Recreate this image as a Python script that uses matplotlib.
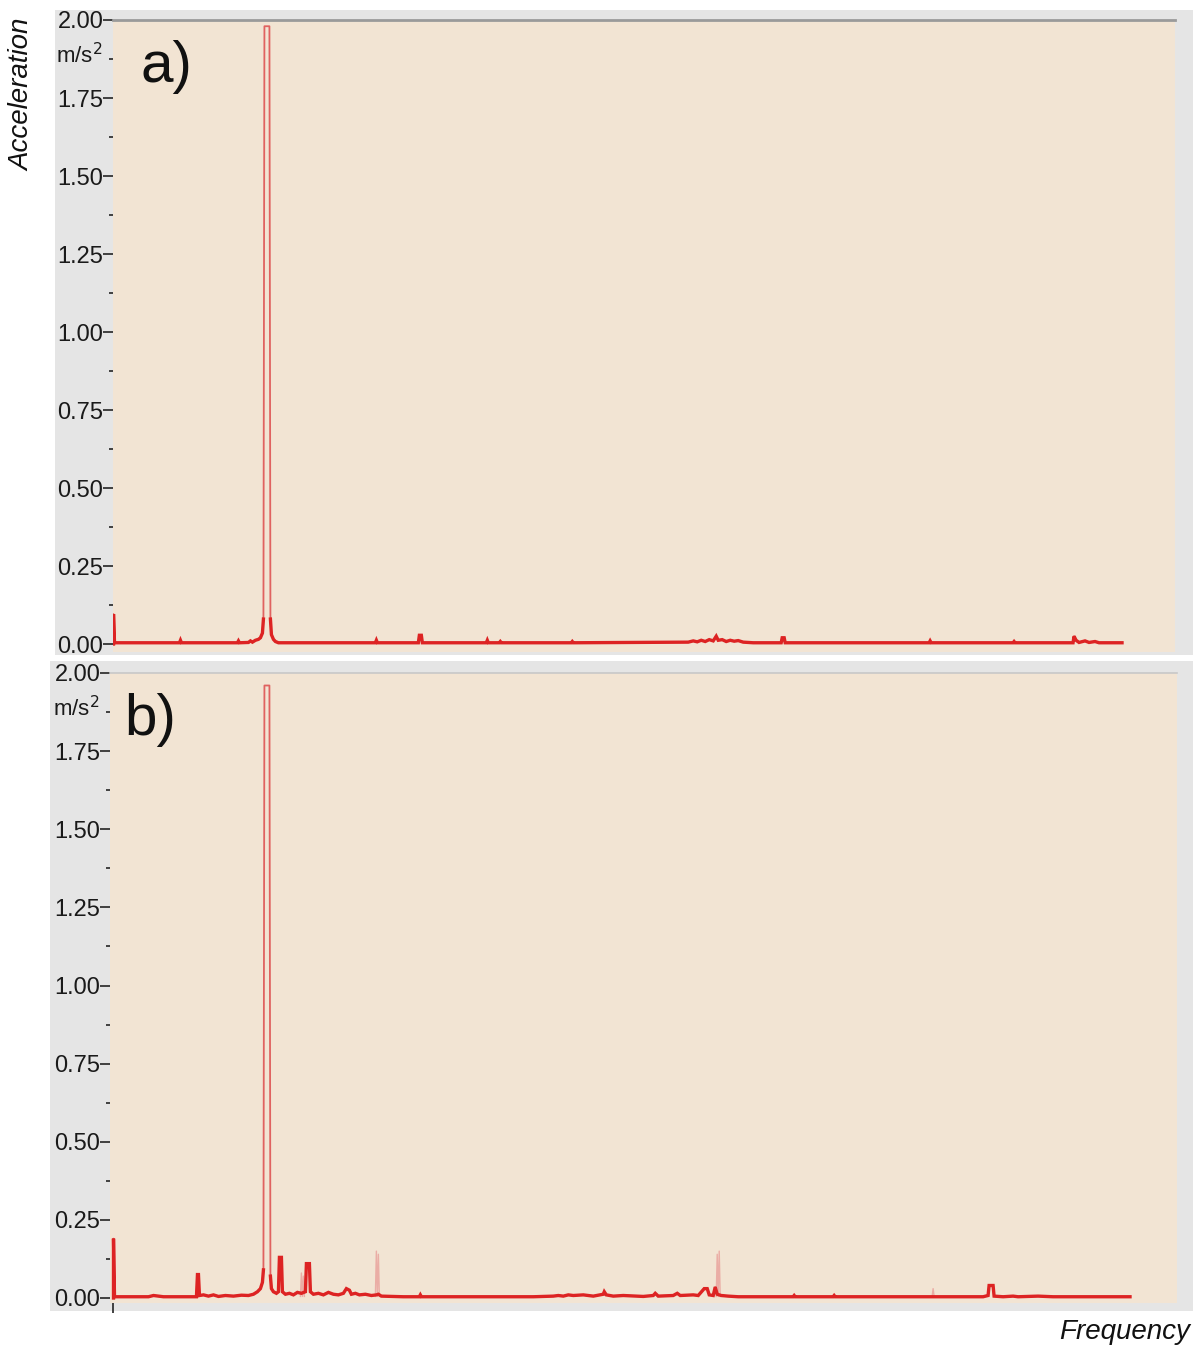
import numpy as np
import matplotlib
matplotlib.use("Agg")
import matplotlib.pyplot as plt
from matplotlib.patches import Rectangle
from matplotlib.ticker import MultipleLocator, FixedLocator

plt.rcParams['font.family'] = ['Liberation Sans', 'DejaVu Sans']

# ---- data (frequency in arbitrary bins, acceleration in m/s^2) ----
freq_a = [0, 0, 1, 20, 66, 67, 68, 124, 125, 126, 135, 137, 139, 142, 145, 147, 149, 150,
          151, 156, 157, 158, 160, 162, 165, 262, 263, 264, 305, 306, 308, 309, 373, 374,
          375, 386, 387, 388, 458, 459, 460, 575, 580, 584, 588, 592, 596, 600, 603, 605,
          609, 613, 617, 621, 625, 630, 640, 668, 669, 671, 672, 816, 817, 818, 900, 901,
          902, 960, 961, 963, 966, 972, 976, 982, 986, 1009]
acc_a = [0.0, 0.096, 0.004, 0.004, 0.004, 0.012, 0.004, 0.004, 0.010, 0.004, 0.005, 0.010,
         0.006, 0.012, 0.015, 0.020, 0.035, 0.080, 1.980, 1.980, 0.080, 0.030, 0.015, 0.008,
         0.004, 0.004, 0.012, 0.004, 0.004, 0.028, 0.028, 0.004, 0.004, 0.012, 0.004, 0.004,
         0.008, 0.004, 0.004, 0.008, 0.004, 0.006, 0.010, 0.007, 0.012, 0.008, 0.014, 0.010,
         0.025, 0.012, 0.014, 0.008, 0.012, 0.009, 0.011, 0.006, 0.004, 0.004, 0.020, 0.020,
         0.004, 0.004, 0.010, 0.004, 0.004, 0.008, 0.004, 0.004, 0.025, 0.012, 0.005, 0.010,
         0.005, 0.008, 0.004, 0.004]

freq_b = [0, 0, 1, 35, 40, 45, 50, 83, 84, 85, 86, 90, 95, 100, 105, 112, 120, 128, 135, 140,
          144, 147, 149, 150, 151, 156, 157, 158, 160, 163, 165, 166, 168, 169, 172, 176, 180,
          184, 188, 192, 193, 196, 197, 200, 205, 210, 215, 220, 225, 230, 233, 236, 238, 242,
          246, 252, 258, 263, 265, 268, 290, 306, 307, 308, 420, 440, 445, 450, 455, 460, 470,
          480, 490, 491, 493, 500, 510, 530, 540, 542, 545, 560, 564, 567, 580, 585, 591, 594,
          596, 600, 602, 604, 608, 615, 625, 680, 681, 682, 720, 721, 722, 820, 870, 875, 876,
          880, 881, 890, 900, 905, 925, 940, 1017]
acc_b = [0.0, 0.190, 0.004, 0.004, 0.008, 0.006, 0.004, 0.004, 0.075, 0.075, 0.008, 0.010,
         0.006, 0.010, 0.005, 0.008, 0.006, 0.009, 0.008, 0.012, 0.020, 0.030, 0.050, 0.090,
         1.960, 1.960, 0.070, 0.030, 0.020, 0.015, 0.020, 0.130, 0.130, 0.020, 0.012, 0.015,
         0.010, 0.018, 0.015, 0.020, 0.110, 0.110, 0.020, 0.012, 0.015, 0.010, 0.018, 0.012,
         0.010, 0.015, 0.030, 0.025, 0.012, 0.015, 0.010, 0.012, 0.008, 0.010, 0.012, 0.006,
         0.004, 0.004, 0.010, 0.004, 0.004, 0.006, 0.008, 0.006, 0.010, 0.008, 0.010, 0.006,
         0.012, 0.020, 0.010, 0.006, 0.008, 0.005, 0.008, 0.015, 0.006, 0.008, 0.015, 0.008,
         0.010, 0.008, 0.030, 0.030, 0.010, 0.008, 0.035, 0.012, 0.008, 0.006, 0.004, 0.004,
         0.008, 0.004, 0.004, 0.008, 0.004, 0.004, 0.004, 0.008, 0.040, 0.040, 0.006, 0.004,
         0.006, 0.004, 0.006, 0.004, 0.004]

# faint "ghost" spikes in panel b
ghost_freq_b = [187, 188, 189, 190, 191, None, 262, 263, 264, 265, 266, None,
                603, 604, 605, 606, 607, None, 819, 820, 821]
ghost_acc_b = [0.005, 0.080, 0.005, 0.070, 0.005, None, 0.005, 0.150, 0.005, 0.140, 0.005, None,
               0.005, 0.140, 0.005, 0.150, 0.005, None, 0.005, 0.030, 0.005]

yticks = [0.0, 0.25, 0.5, 0.75, 1.0, 1.25, 1.5, 1.75, 2.0]
ytick_labels = ["0.00", "0.25", "0.50", "0.75", "1.00", "1.25", "1.50", "1.75", "2.00"]

# ---- figure ----
W, H = 1193, 1345
fig = plt.figure(figsize=(W / 100, H / 100), dpi=100)
fig.patch.set_facecolor("white")

BEIGE = "#f2e4d3"
GRAY = "#e5e5e5"
RED = "#dd2323"
SALMON = "#e06260"


def px_rect(x0, y0, x1, y1):
    return [x0 / W, 1 - y1 / H, (x1 - x0) / W, (y1 - y0) / H]


# gray backgrounds
for (x0, y0, x1, y1) in [(55, 10, 1193, 655), (50, 661, 1193, 1311)]:
    r = px_rect(x0, y0, x1, y1)
    fig.patches.append(Rectangle((r[0], r[1]), r[2], r[3], transform=fig.transFigure,
                                 facecolor=GRAY, edgecolor="none", zorder=-10))

ax_a = fig.add_axes(px_rect(113, 20, 1175, 652))
ax_b = fig.add_axes(px_rect(110, 673, 1177, 1303))


def style(ax, ylo, xlo, xhi, label, top_color, top_lw):
    ax.set_facecolor(BEIGE)
    ax.set_ylim(ylo, 2.0)
    ax.set_xlim(xlo, xhi)
    for s in ["left", "right", "bottom"]:
        ax.spines[s].set_visible(False)
    ax.spines["top"].set_color(top_color)
    ax.spines["top"].set_linewidth(top_lw)
    ax.yaxis.set_major_locator(FixedLocator(yticks))
    ax.set_yticklabels(ytick_labels)
    ax.yaxis.set_minor_locator(MultipleLocator(0.125))
    ax.tick_params(axis="y", which="major", length=7, width=1.3, color="#333333",
                   labelsize=17, pad=0, labelcolor="#1a1a1a")
    ax.tick_params(axis="y", which="minor", length=3, width=1.3, color="#333333")
    ax.text(-0.010, 1.885, "m/s$^2$", transform=ax.get_yaxis_transform(),
            ha="right", va="center", fontsize=16, color="#1a1a1a")
    ax.text(label[0], label[1], label[2], transform=ax.transAxes, fontsize=42,
            ha="left", va="center", color="#111111")


style(ax_a, -0.0256, -0.5, 1062, (0.026, 0.925, "a)"), "#9a9a9a", 2.0)
style(ax_b, -0.016, -3.5, 1064, (0.013, 0.925, "b)"), "#c8c8c8", 1.2)

ax_a.set_xticks([])
ax_b.set_xticks([0])
ax_b.set_xticklabels([""])
ax_b.tick_params(axis="x", length=7, width=1.3, color="#333333")

for ax, fx, ay in [(ax_a, freq_a, acc_a), (ax_b, freq_b, acc_b)]:
    ay_arr = np.array(ay)
    ax.plot(fx, ay_arr, color=SALMON, lw=1.3, zorder=3)
    strong = np.where(ay_arr > 0.2, np.nan, ay_arr)
    ax.plot(fx, strong, color=RED, lw=2.4, solid_joinstyle="miter", zorder=4)

ax_b.plot(ghost_freq_b, ghost_acc_b, color="#e58080", lw=1.0, alpha=0.55, zorder=2)

fig.text(22 / W, 1 - 95 / H, "Acceleration", rotation=90, style="italic", fontsize=20,
         ha="center", va="center", color="#111111")
fig.text(1190 / W, 1 - 1332 / H, "Frequency", style="italic", fontsize=20,
         ha="right", va="center", color="#111111")

fig.savefig("out.png", dpi=100)
